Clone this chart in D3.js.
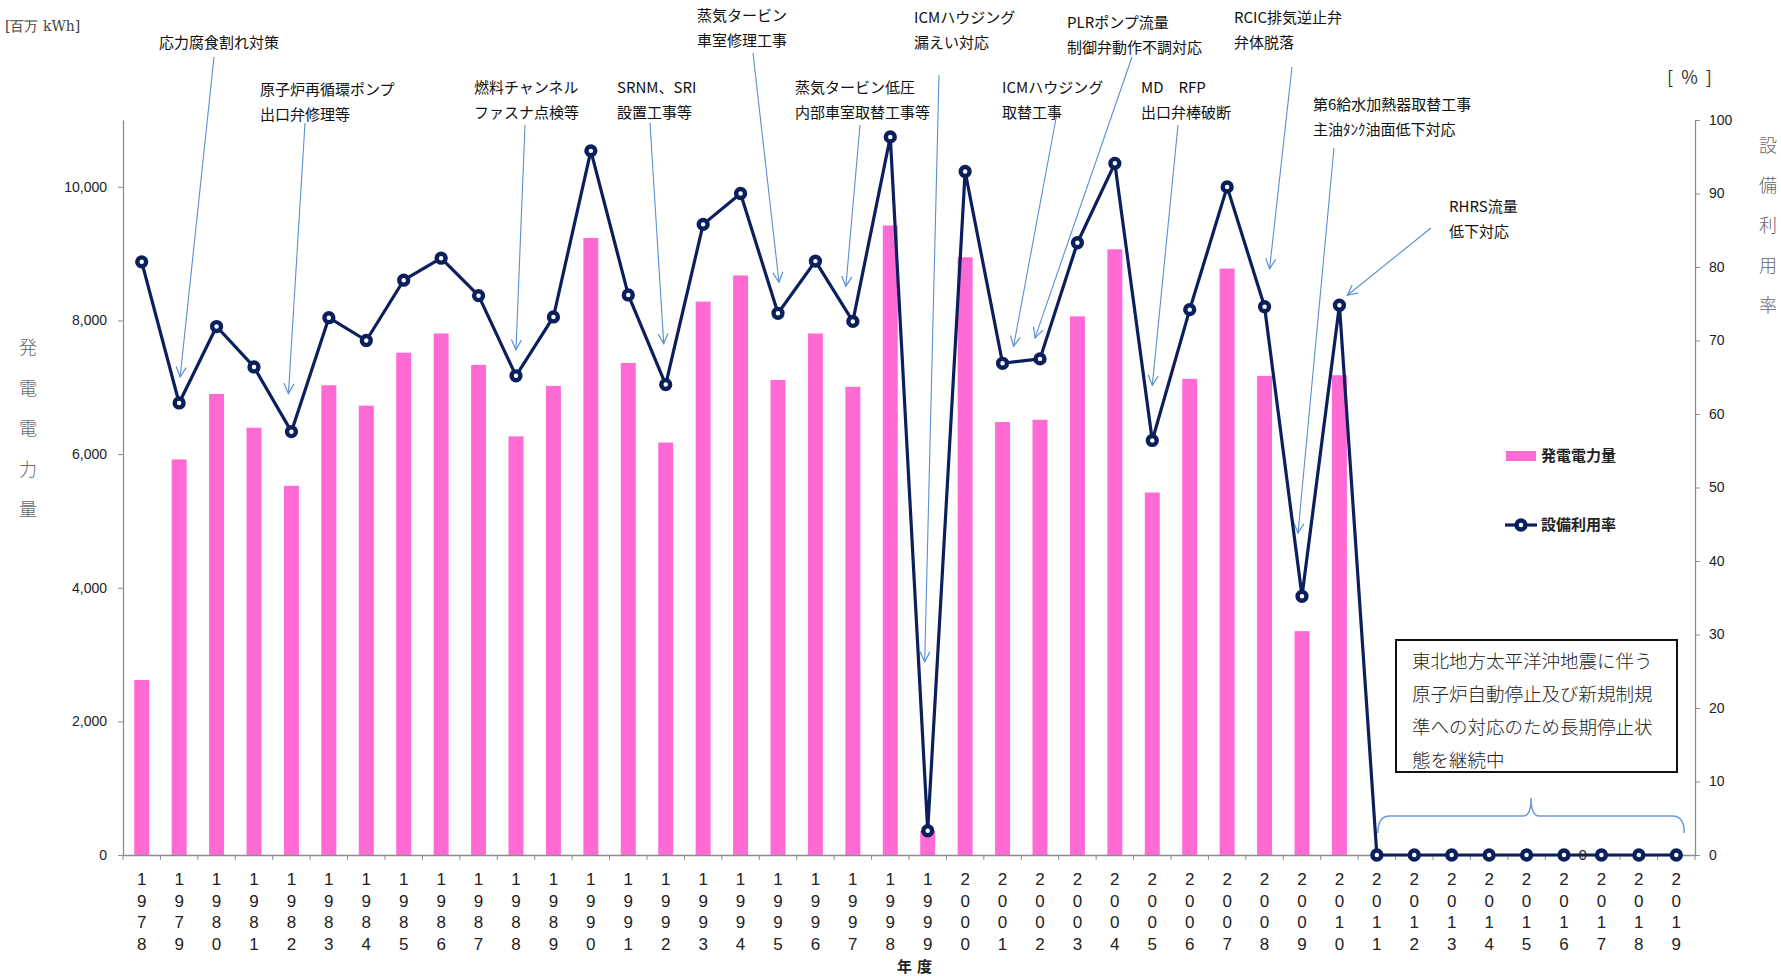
<!DOCTYPE html>
<html><head><meta charset="utf-8">
<script src="https://cdn.jsdelivr.net/npm/d3@7"></script>
<style>
body{margin:0;background:#fff;}
svg{display:block;font-family:"Noto Sans CJK JP","Noto Sans",sans-serif;}
</style></head>
<body>
<svg id="chart" width="1781" height="976"></svg>
<script>
// ---- data ----
const years = d3.range(1978, 2020);
const energy = [2620,5920,6900,6395,5525,7030,6725,7518,7806,7335,6265,7020,9235,7364,6173,8282,8673,7109,7806,7007,9422,360,8946,6480,6514,8061,9065,5425,7126,8776,7170,3350,7180,0,0,0,0,0,0,0,0,0];
const utilization = [80.7,61.5,71.9,66.4,57.6,73.1,70.0,78.2,81.2,76.1,65.2,73.2,95.8,76.2,64.0,85.8,90.0,73.7,80.8,72.6,97.7,3.3,93.0,66.9,67.5,83.3,94.1,56.4,74.2,90.9,74.6,35.2,74.8,0,0,0,0,0,0,0,0,0];
const leftTicks = [0,2000,4000,6000,8000,10000];
const rightTicks = [0,10,20,30,40,50,60,70,80,90,100];
const annotationTexts = [
  ["応力腐食割れ対策"],
  ["原子炉再循環ポンプ","出口弁修理等"],
  ["燃料チャンネル","ファスナ点検等"],
  ["SRNM、SRI","設置工事等"],
  ["蒸気タービン","車室修理工事"],
  ["蒸気タービン低圧","内部車室取替工事等"],
  ["ICMハウジング","漏えい対応"],
  ["ICMハウジング","取替工事"],
  ["PLRポンプ流量","制御弁動作不調対応"],
  ["MD　RFP","出口弁棒破断"],
  ["RCIC排気逆止弁","弁体脱落"],
  ["第6給水加熱器取替工事","主油ﾀﾝｸ油面低下対応"],
  ["RHRS流量","低下対応"]
];
const annotationYears = [1979,1982,1988,1992,1995,1997,1999,2001,2002,2005,2008,2009,2010];
const noteLines = ["東北地方太平洋沖地震に伴う","原子炉自動停止及び新規制規","準への対応のため長期停止状","態を継続中"];
const legendLabels = ["発電電力量","設備利用率"];

// ---- layout ----
const L = {left:123, right:1695, top:120, bottom:855};
// text anchor [x, y of first line], arrow start [x,y], arrow tip offset from data point [dx,dy]
const annLayout = [
  {tx:159, ty:43, sx:214, sy:57, dx:1, dy:-26},
  {tx:260, ty:90, sx:305, sy:123, dx:-3, dy:-38},
  {tx:474, ty:88, sx:525, sy:125, dx:0, dy:-26},
  {tx:617, ty:88, sx:650, sy:123, dx:-2, dy:-41},
  {tx:697, ty:16, sx:753, sy:53, dx:1, dy:-31},
  {tx:795, ty:88, sx:860, sy:125, dx:-7, dy:-35},
  {tx:914, ty:18, sx:939, sy:75, dx:-3, dy:-169},
  {tx:1002, ty:88, sx:1057, sy:113, dx:11, dy:-17},
  {tx:1067, ty:23, sx:1132, sy:57, dx:-5, dy:-21},
  {tx:1141, ty:88, sx:1178, sy:125, dx:0, dy:-55},
  {tx:1234, ty:18, sx:1292, sy:67, dx:5, dy:-38},
  {tx:1313, ty:105, sx:1334, sy:148, dx:-4, dy:-63},
  {tx:1449, ty:207, sx:1431, sy:228, dx:8, dy:-10}
];

const svg = d3.select("#chart");
const x = d3.scaleBand().domain(years).range([L.left, L.right]).padding(0);
const yL = d3.scaleLinear().domain([0,11000]).range([L.bottom, L.top]);
const yR = d3.scaleLinear().domain([0,100]).range([L.bottom, L.top]);
const cx = d => x(d) + x.bandwidth()/2;

const axisColor = "#8c8c8c";
const navy = "#0b1f5c";
const pink = "#ff6ad5";
const arrowBlue = "#5a8ed0";

// defs: arrow marker
svg.append("defs").append("marker")
  .attr("id","arr").attr("viewBox","0 0 12 12").attr("refX",11).attr("refY",6)
  .attr("markerWidth",12).attr("markerHeight",12).attr("markerUnits","userSpaceOnUse")
  .attr("orient","auto")
  .append("path").attr("d","M1,1 L11,6 L1,11").attr("fill","none")
  .attr("stroke",arrowBlue).attr("stroke-width",1.2);

// bars
const bw = x.bandwidth()*0.4;
svg.append("g").selectAll("rect").data(years).join("rect")
  .attr("x", (d)=>cx(d)-bw/2)
  .attr("width", bw)
  .attr("y", (d,i)=>yL(energy[i]))
  .attr("height", (d,i)=>yL(0)-yL(energy[i]))
  .attr("fill", pink);

// left axis
const gL = svg.append("g").attr("transform",`translate(${L.left},0)`)
  .call(d3.axisLeft(yL).tickValues(leftTicks).tickFormat(d3.format(",")).tickSize(5).tickSizeOuter(0).tickPadding(11));
gL.select(".domain").attr("stroke",axisColor).attr("stroke-width",1.3);
gL.selectAll(".tick line").attr("stroke",axisColor);
gL.selectAll(".tick text").attr("font-family","Liberation Sans, Arial, sans-serif").attr("font-size",14).attr("fill","#222");

// right axis
const gR = svg.append("g").attr("transform",`translate(${L.right},0)`)
  .call(d3.axisRight(yR).tickValues(rightTicks).tickSize(5).tickSizeOuter(0).tickPadding(9));
gR.select(".domain").attr("stroke",axisColor).attr("stroke-width",1.3);
gR.selectAll(".tick line").attr("stroke",axisColor);
gR.selectAll(".tick text").attr("font-family","Liberation Sans, Arial, sans-serif").attr("font-size",14).attr("fill","#222");

// x axis baseline + ticks at category boundaries
const gX = svg.append("g").attr("transform",`translate(0,${L.bottom})`)
  .call(d3.axisBottom(x).tickSize(0).tickFormat(""));
gX.select(".domain").attr("stroke",axisColor).attr("stroke-width",1.3);
svg.append("g").selectAll("line").data(years.concat([years[years.length-1]+1])).join("line")
  .attr("x1",(d,i)=> L.left + x.step()*i).attr("x2",(d,i)=> L.left + x.step()*i)
  .attr("y1",L.bottom).attr("y2",L.bottom+5).attr("stroke",axisColor);
// stacked digit labels
const xl = svg.append("g").attr("font-family","Liberation Sans Narrow, Arial Narrow, Liberation Sans, sans-serif")
  .attr("font-size",17).attr("fill","#222").attr("text-anchor","middle");
years.forEach(yr=>{
  String(yr).split("").forEach((ch,k)=>{
    xl.append("text").attr("x",cx(yr)).attr("y",885+k*21.5).text(ch);
  });
});
svg.append("text").attr("x",897).attr("y",972).attr("font-size",15).attr("font-weight",700).attr("fill","#222").text("年");
svg.append("text").attr("x",917).attr("y",972).attr("font-size",15).attr("font-weight",700).attr("fill","#222").text("度");

// unit labels and axis titles
svg.append("text").attr("x",5).attr("y",31).attr("font-size",14).attr("fill","#444")
  .attr("font-family","DejaVu Serif, serif").text("[百万 kWh]");
svg.append("text").attr("x",1667).attr("y",84).attr("font-size",18).attr("fill","#333")
  .text("[\u00a0\u00a0%\u00a0\u00a0]");
"発電電力量".split("").forEach((ch,k)=>{
  svg.append("text").attr("x",28).attr("y",354+k*40.5).attr("text-anchor","middle")
    .attr("font-size",18).attr("font-weight",300).attr("fill","#666").text(ch);
});
"設備利用率".split("").forEach((ch,k)=>{
  svg.append("text").attr("x",1768).attr("y",152+k*40).attr("text-anchor","middle")
    .attr("font-size",18).attr("font-weight",300).attr("fill","#666").text(ch);
});

// annotation arrows + text
const ga = svg.append("g");
annotationTexts.forEach((lines,i)=>{
  const lay = annLayout[i];
  const yr = annotationYears[i];
  const idx = years.indexOf(yr);
  const tipX = cx(yr) + lay.dx, tipY = yR(utilization[idx]) + lay.dy;
  ga.append("line").attr("x1",lay.sx).attr("y1",lay.sy).attr("x2",tipX).attr("y2",tipY)
    .attr("stroke",arrowBlue).attr("stroke-width",1.1).attr("marker-end","url(#arr)");
  lines.forEach((t,k)=>{
    ga.append("text").attr("x",lay.tx).attr("y",lay.ty + k*24.5).attr("dy","0.35em")
      .attr("font-size",15).attr("fill","#111").text(t);
  });
});

// line
const line = d3.line().x((d,i)=>cx(years[i])).y(d=>yR(d));
svg.append("path").datum(utilization).attr("d",line).attr("fill","none")
  .attr("stroke",navy).attr("stroke-width",3.2).attr("stroke-linejoin","round");
const sym = d3.symbol().type(d3.symbolCircle).size(62);
svg.append("g").selectAll("path").data(utilization).join("path")
  .attr("transform",(d,i)=>`translate(${cx(years[i])},${yR(d)})`)
  .attr("d",sym).attr("fill","#fff").attr("stroke",navy).attr("stroke-width",4.4);

// stray data label "0"
svg.append("text").attr("x",(cx(2016)+cx(2017))/2).attr("y",yR(0)).attr("dy","0.35em")
  .attr("text-anchor","middle").attr("font-family","Liberation Sans Narrow, Liberation Sans, sans-serif")
  .attr("font-size",15).attr("fill","#222").text("0");

// brace over 2011-2019
const bx1 = cx(2011)+1, bx2 = cx(2019)+8, bmid = (bx1+bx2)/2, by = 816;
svg.append("path")
  .attr("d",`M${bx1},${by+17} Q${bx1},${by} ${bx1+12},${by} L${bmid-8},${by} Q${bmid},${by} ${bmid},${by-18} Q${bmid},${by} ${bmid+8},${by} L${bx2-12},${by} Q${bx2},${by} ${bx2},${by+17}`)
  .attr("fill","none").attr("stroke","#6c9bd2").attr("stroke-width",1.5);

// note box
const nb = svg.append("g");
nb.append("rect").attr("x",1396).attr("y",640).attr("width",281).attr("height",132)
  .attr("fill","#fff").attr("stroke","#111").attr("stroke-width",2);
noteLines.forEach((t,k)=>{
  nb.append("text").attr("x",1412).attr("y",662+k*32.7).attr("dy","0.35em")
    .attr("font-size",18.5).attr("font-weight",300).attr("fill","#222").text(t);
});

// legend
const lg = svg.append("g");
lg.append("rect").attr("x",1506).attr("y",451).attr("width",30).attr("height",10).attr("fill",pink);
lg.append("text").attr("x",1541).attr("y",456).attr("dy","0.35em").attr("font-size",15).attr("font-weight",700).attr("fill","#222").text(legendLabels[0]);
lg.append("line").attr("x1",1505).attr("x2",1537).attr("y1",525).attr("y2",525).attr("stroke",navy).attr("stroke-width",3.2);
lg.append("path").attr("transform","translate(1521,525)").attr("d",sym).attr("fill","#fff").attr("stroke",navy).attr("stroke-width",4.4);
lg.append("text").attr("x",1541).attr("y",525).attr("dy","0.35em").attr("font-size",15).attr("font-weight",700).attr("fill","#222").text(legendLabels[1]);
</script>
</body></html>
